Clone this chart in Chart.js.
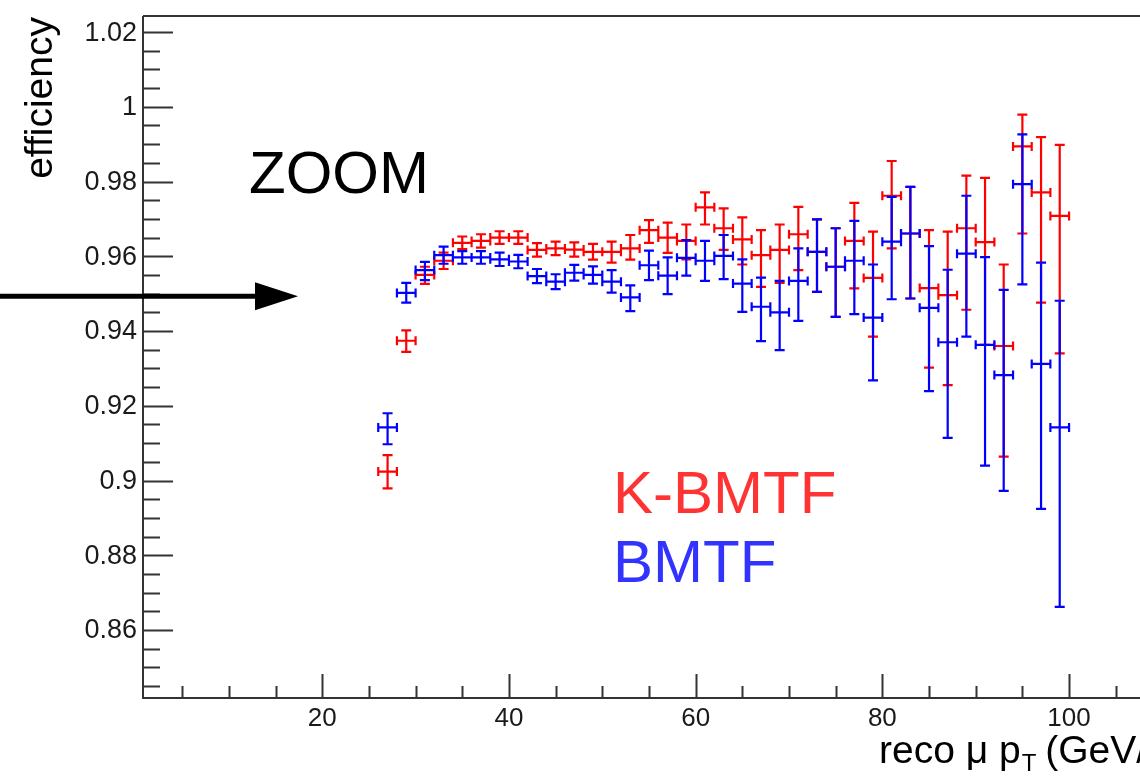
<!DOCTYPE html>
<html>
<head>
<meta charset="utf-8">
<title>efficiency vs reco pT</title>
<script src="https://cdn.jsdelivr.net/npm/chart.js@4.4.1/dist/chart.umd.min.js"></script>
<style>
  html, body { margin: 0; padding: 0; background: #fff; overflow: hidden; }
  canvas { display: block; }
</style>
</head>
<body>
<canvas id="chartjs-0" width="1140" height="780"></canvas>
<script>
// ========================
// DATA
// ========================
const ptBins = [27, 29, 31, 33, 35, 37, 39, 41, 43, 45, 47, 49, 51, 53, 55, 57, 59, 61, 63,
  65, 67, 69, 71, 73, 75, 77, 79, 81, 83, 85, 87, 89, 91, 93, 95, 97, 99];
const binHalfWidth = 1;

// K-BMTF (red)
const kbmtfEff = [0.9024, 0.9374, 0.9550, 0.9588, 0.9636, 0.9641, 0.9650, 0.9650, 0.9617, 0.9621,
  0.9618, 0.9612, 0.9612, 0.9621, 0.9670, 0.9650, 0.9641, 0.9731, 0.9675, 0.9645, 0.9603, 0.9617,
  0.9659, 0.9612, 0.9572, 0.9641, 0.9542, 0.9762, 0.9661, 0.9515, 0.9496, 0.9675, 0.9638, 0.9360,
  0.9894, 0.9771, 0.9708];
const kbmtfErrLow = [0.0045, 0.0030, 0.0024, 0.0022, 0.0017, 0.0018, 0.0017, 0.0017, 0.0018, 0.0018,
  0.0019, 0.0021, 0.0029, 0.0030, 0.0034, 0.0041, 0.0049, 0.0046, 0.0058, 0.0067, 0.0085, 0.0088,
  0.0096, 0.0107, 0.0134, 0.0127, 0.0157, 0.0141, 0.0174, 0.0213, 0.0241, 0.0218, 0.0275, 0.0296,
  0.0233, 0.0295, 0.0368];
const kbmtfErrHigh = [0.0044, 0.0028, 0.0022, 0.0022, 0.0017, 0.0018, 0.0017, 0.0017, 0.0018, 0.0018,
  0.0019, 0.0021, 0.0027, 0.0036, 0.0027, 0.0040, 0.0044, 0.0040, 0.0053, 0.0059, 0.0067, 0.0068,
  0.0073, 0.0087, 0.0103, 0.0102, 0.0124, 0.0093, 0.0125, 0.0155, 0.0170, 0.0141, 0.0172, 0.0218,
  0.0085, 0.0148, 0.0190];

// BMTF (blue)
const bmtfEff = [0.9142, 0.9502, 0.9563, 0.9603, 0.9597, 0.9597, 0.9592, 0.9586, 0.9547, 0.9532,
  0.9556, 0.9550, 0.9532, 0.9490, 0.9576, 0.9548, 0.9596, 0.9588, 0.9601, 0.9527, 0.9465, 0.9450,
  0.9534, 0.9612, 0.9572, 0.9588, 0.9436, 0.9639, 0.9661, 0.9462, 0.9370, 0.9607, 0.9363, 0.9282,
  0.9793, 0.9312, 0.9142];
const bmtfErrLow = [0.0045, 0.0026, 0.0027, 0.0023, 0.0017, 0.0017, 0.0018, 0.0018, 0.0019, 0.0020,
  0.0021, 0.0023, 0.0029, 0.0037, 0.0040, 0.0049, 0.0048, 0.0054, 0.0062, 0.0076, 0.0092, 0.0101,
  0.0107, 0.0107, 0.0134, 0.0143, 0.0168, 0.0154, 0.0174, 0.0223, 0.0256, 0.0222, 0.0323, 0.0310,
  0.0268, 0.0388, 0.0480];
const bmtfErrHigh = [0.0038, 0.0027, 0.0022, 0.0023, 0.0017, 0.0017, 0.0018, 0.0018, 0.0019, 0.0020,
  0.0021, 0.0023, 0.0031, 0.0032, 0.0039, 0.0049, 0.0047, 0.0053, 0.0056, 0.0065, 0.0078, 0.0084,
  0.0087, 0.0087, 0.0103, 0.0107, 0.0142, 0.0120, 0.0125, 0.0165, 0.0194, 0.0155, 0.0235, 0.0228,
  0.0133, 0.0271, 0.0339];

// axes
const xMin = 0.8, xMax = 107.6;
const yMin = 0.8418, yMax = 1.0243;
const xTicks = [20, 40, 60, 80, 100];
const yTicks = [0.86, 0.88, 0.9, 0.92, 0.94, 0.96, 0.98, 1, 1.02];
const xMinorStep = 5;
const yMinorStep = 0.005;

const RED = "#ff0000";
const BLUE = "#0000ff";
const FONT = "'Liberation Sans', Arial, Helvetica, sans-serif";

// ========================
// Helpers
// ========================
function buildPoints(eff, lo, hi) {
  return ptBins.map((x, i) => ({ x, y: eff[i], lo: lo[i], hi: hi[i] }));
}

function fmtTick(v) {
  return String(+v.toFixed(2));
}

// ROOT-like frame, inner ticks and labels
const rootAxes = {
  id: "rootAxes",
  afterDraw(chart) {
    const { ctx, chartArea: a, scales } = chart;
    const xs = scales.x, ys = scales.y;
    ctx.save();
    ctx.strokeStyle = "#333";
    ctx.lineWidth = 2;

    // frame (left, bottom, top; right edge is off canvas)
    ctx.beginPath();
    ctx.moveTo(a.left, a.top);
    ctx.lineTo(a.right + 2, a.top);
    ctx.moveTo(a.left, a.top);
    ctx.lineTo(a.left, a.bottom);
    ctx.lineTo(a.right + 2, a.bottom);
    ctx.stroke();

    // y ticks
    ctx.beginPath();
    for (let v = Math.ceil(yMin / yMinorStep) * yMinorStep; v <= yMax; v += yMinorStep) {
      const y = Math.round(ys.getPixelForValue(v)) + 0.5;
      const major = yTicks.some(t => Math.abs(t - v) < 1e-6);
      ctx.moveTo(a.left, y);
      ctx.lineTo(a.left + (major ? 30 : 17), y);
    }
    // x ticks
    for (let v = Math.ceil(xMin / xMinorStep) * xMinorStep; v <= xMax; v += xMinorStep) {
      const x = Math.round(xs.getPixelForValue(v)) + 0.5;
      const major = v % 20 === 0;
      ctx.moveTo(x, a.bottom);
      ctx.lineTo(x, a.bottom - (major ? 24 : 12));
    }
    ctx.stroke();

    // tick labels
    ctx.fillStyle = "#1a1a1a";
    ctx.font = "27px " + FONT;
    ctx.textAlign = "right";
    ctx.textBaseline = "middle";
    for (const t of yTicks) ctx.fillText(fmtTick(t), a.left - 6, ys.getPixelForValue(t) + 1);
    ctx.font = "26px " + FONT;
    ctx.textAlign = "center";
    ctx.textBaseline = "middle";
    for (const t of xTicks) ctx.fillText(String(t), xs.getPixelForValue(t), a.bottom + 21);

    // axis titles
    ctx.fillStyle = "#000";
    ctx.font = "39px " + FONT;
    ctx.textAlign = "left";
    ctx.textBaseline = "alphabetic";
    let tx = 879;
    const ty = 763;
    ctx.fillText("reco \u03bc p", tx, ty);
    tx += ctx.measureText("reco \u03bc p").width + 1;
    ctx.font = "24px " + FONT;
    ctx.fillText("T", tx, ty + 8);
    tx += ctx.measureText("T").width - 2;
    ctx.font = "39px " + FONT;
    ctx.fillText(" (GeV/c)", tx, ty);

    ctx.save();
    ctx.translate(52, 17);
    ctx.rotate(-Math.PI / 2);
    ctx.textAlign = "right";
    ctx.fillText("efficiency", 0, 0);
    ctx.restore();

    // annotations
    ctx.font = "60px " + FONT;
    ctx.fillStyle = "#000";
    ctx.fillText("ZOOM", 249, 193);
    ctx.fillStyle = "#ff3333";
    ctx.fillText("K-BMTF", 613, 513);
    ctx.fillStyle = "#3333ff";
    ctx.fillText("BMTF", 613, 582);

    // arrow pointing at 0.95
    const ay = ys.getPixelForValue(0.9493);
    ctx.strokeStyle = "#000";
    ctx.fillStyle = "#000";
    ctx.lineWidth = 5;
    ctx.beginPath();
    ctx.moveTo(0, ay);
    ctx.lineTo(258, ay);
    ctx.stroke();
    ctx.beginPath();
    ctx.moveTo(255, ay - 14);
    ctx.lineTo(298, ay);
    ctx.lineTo(255, ay + 14);
    ctx.closePath();
    ctx.fill();
    ctx.restore();
  }
};

// asymmetric error crosses with end caps
const errorCrosses = {
  id: "errorCrosses",
  afterDatasetsDraw(chart) {
    const { ctx, scales } = chart;
    const xs = scales.x, ys = scales.y;
    ctx.save();
    ctx.lineWidth = 2.2;
    chart.data.datasets.forEach(ds => {
      ctx.strokeStyle = ds.borderColor;
      ctx.beginPath();
      for (const p of ds.data) {
        const x = xs.getPixelForValue(p.x);
        const xl = xs.getPixelForValue(p.x - binHalfWidth);
        const xr = xs.getPixelForValue(p.x + binHalfWidth);
        const y = ys.getPixelForValue(p.y);
        const yt = ys.getPixelForValue(p.y + p.hi);
        const yb = ys.getPixelForValue(p.y - p.lo);
        // horizontal bar + caps
        ctx.moveTo(xl, y); ctx.lineTo(xr, y);
        ctx.moveTo(xl, y - 4.5); ctx.lineTo(xl, y + 4.5);
        ctx.moveTo(xr, y - 4.5); ctx.lineTo(xr, y + 4.5);
        // vertical bar + caps
        ctx.moveTo(x, yt); ctx.lineTo(x, yb);
        ctx.moveTo(x - 5, yt); ctx.lineTo(x + 5, yt);
        ctx.moveTo(x - 5, yb); ctx.lineTo(x + 5, yb);
      }
      ctx.stroke();
    });
    ctx.restore();
  }
};

// ========================
// Chart.js
// ========================
const ctx = document.getElementById("chartjs-0").getContext("2d");

new Chart(ctx, {
  type: "scatter",
  data: {
    datasets: [
      { label: "K-BMTF", data: buildPoints(kbmtfEff, kbmtfErrLow, kbmtfErrHigh), borderColor: RED, backgroundColor: RED, pointRadius: 0 },
      { label: "BMTF", data: buildPoints(bmtfEff, bmtfErrLow, bmtfErrHigh), borderColor: BLUE, backgroundColor: BLUE, pointRadius: 0 }
    ]
  },
  options: {
    responsive: false,
    animation: false,
    layout: { padding: { left: 143, top: 16, right: 0, bottom: 82 } },
    plugins: { legend: { display: false }, tooltip: { enabled: false } },
    scales: {
      x: { type: "linear", min: xMin, max: xMax, display: false },
      y: { type: "linear", min: yMin, max: yMax, display: false }
    }
  },
  plugins: [errorCrosses, rootAxes]
});
</script>
</body>
</html>
